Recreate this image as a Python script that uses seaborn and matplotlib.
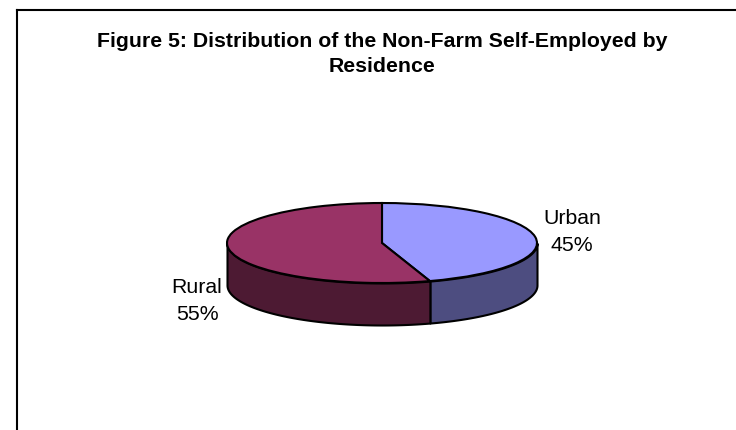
import numpy as np
import matplotlib
matplotlib.use('Agg')
import matplotlib.pyplot as plt
import seaborn as sns

# data
categories = ['Urban', 'Rural']
shares = [45, 55]
top_colors = ['#9999FF', '#993366']
side_colors = ['#4D4D80', '#4D1A33']

sns.set_theme(style='white')
plt.rcParams['font.family'] = ['Liberation Sans', 'DejaVu Sans']

W, H = 736, 430
fig = plt.figure(figsize=(W / 100, H / 100), dpi=100, facecolor='white')

# outer chart frame, only top and left are inside the crop
frame = fig.add_axes([17 / W, 0, 1 - 17 / W + 0.01, 1 - 9.5 / H])
frame.set_xticks([]); frame.set_yticks([])
for side in ['right', 'bottom']:
    frame.spines[side].set_visible(False)
for side in ['top', 'left']:
    frame.spines[side].set_linewidth(1.5)
    frame.spines[side].set_color('black')

# pie axes covers whole figure, 1 unit = pie radius in pixels
cx, cy, rx, ry, depth = 382, 243, 155, 40, 42
ax = fig.add_axes([0, 0, 1, 1])
ax.patch.set_alpha(0)
lw = 1.5
ax.pie(shares, colors=top_colors, startangle=90, counterclock=False,
       wedgeprops={'edgecolor': 'black', 'linewidth': lw, 'zorder': 3})
ax.set_aspect('auto')
ax.set_xlim(-cx / rx, (W - cx) / rx)
ax.set_ylim(-(H - cy) / ry, cy / ry)

# side wall of the 3d pie, only the front half is seen
start = 90.0
for share, col in zip(shares, side_colors):
    stop = start - share / sum(shares) * 360
    t = np.radians(np.linspace(start, stop, 200))
    t = t[np.sin(t) <= 0]
    if len(t):
        ax.fill_between(np.cos(t), np.sin(t), np.sin(t) - depth / ry,
                        facecolor=col, edgecolor='black', linewidth=lw, zorder=2)
    start = stop

title = 'Figure 5: Distribution of the Non-Farm Self-Employed by\nResidence'
fig.text(382 / W, 1 - 54 / H, title, ha='center', va='center', fontsize=15.3,
         fontweight='bold', color='black', linespacing=1.39)

label_pos = [(572, 232), (197, 301)]
for name, share, (px, py) in zip(categories, shares, label_pos):
    fig.text(px / W, 1 - py / H, f'{name}\n{share}%', ha='center', va='center',
             fontsize=15.3, color='black', linespacing=1.55)

fig.savefig('out.png', dpi=100)
